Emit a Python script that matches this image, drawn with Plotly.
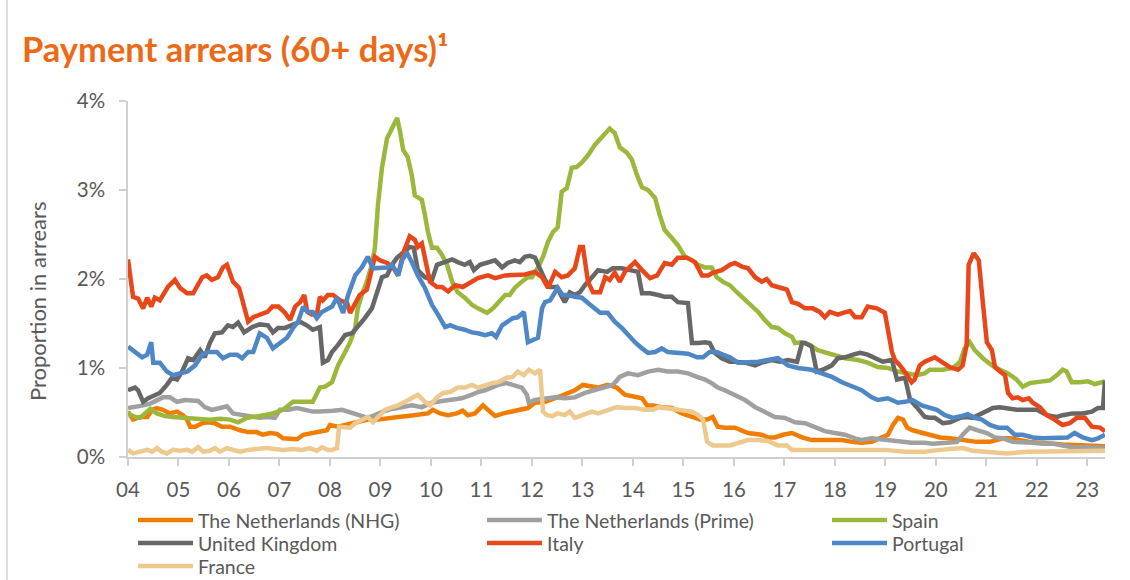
import plotly.graph_objects as go

# Tick positions (start of each year) and their labels
YEARS = list(range(2004, 2024))
YEAR_LABELS = [f"{y % 100:02d}" for y in YEARS]
PCT_TICKS = [0, 1, 2, 3, 4]
PCT_LABELS = [f"{v}%" for v in PCT_TICKS]

# Payment arrears 60+ days, % of loans, as (decimal year, value) pairs
NL_NHG = [
    (2004.00, 0.51), (2004.10, 0.42), (2004.24, 0.45), (2004.38, 0.45), (2004.48, 0.53),
    (2004.57, 0.55), (2004.69, 0.53), (2004.83, 0.49), (2004.97, 0.51), (2005.09, 0.47),
    (2005.17, 0.42), (2005.23, 0.34), (2005.33, 0.34), (2005.47, 0.38), (2005.58, 0.39),
    (2005.72, 0.38), (2005.86, 0.34), (2006.02, 0.34), (2006.22, 0.30), (2006.38, 0.28),
    (2006.55, 0.28), (2006.67, 0.25), (2006.81, 0.27), (2006.95, 0.26), (2007.07, 0.21),
    (2007.21, 0.20), (2007.35, 0.20), (2007.47, 0.25), (2007.64, 0.27), (2007.80, 0.28),
    (2007.94, 0.30), (2008.00, 0.36), (2008.16, 0.34), (2008.30, 0.36), (2008.44, 0.38),
    (2008.55, 0.39), (2008.75, 0.42), (2008.95, 0.42), (2009.15, 0.44), (2009.35, 0.45),
    (2009.54, 0.46), (2009.74, 0.47), (2009.94, 0.49), (2010.04, 0.53), (2010.18, 0.49),
    (2010.34, 0.47), (2010.51, 0.49), (2010.63, 0.52), (2010.73, 0.47), (2010.87, 0.49),
    (2011.03, 0.58), (2011.13, 0.53), (2011.27, 0.46), (2011.43, 0.49), (2011.60, 0.51),
    (2011.80, 0.53), (2011.92, 0.55), (2012.06, 0.61), (2012.26, 0.62), (2012.46, 0.66),
    (2012.65, 0.70), (2012.85, 0.75), (2013.01, 0.81), (2013.15, 0.79), (2013.31, 0.78),
    (2013.50, 0.81), (2013.68, 0.78), (2013.84, 0.70), (2014.04, 0.67), (2014.18, 0.66),
    (2014.28, 0.58), (2014.40, 0.58), (2014.57, 0.56), (2014.77, 0.55), (2014.97, 0.49),
    (2015.17, 0.45), (2015.33, 0.42), (2015.47, 0.42), (2015.58, 0.45), (2015.68, 0.34),
    (2015.82, 0.33), (2016.02, 0.33), (2016.16, 0.30), (2016.28, 0.27), (2016.55, 0.25),
    (2016.67, 0.22), (2016.81, 0.22), (2016.97, 0.25), (2017.15, 0.27), (2017.35, 0.22),
    (2017.54, 0.19), (2017.94, 0.19), (2018.14, 0.19), (2018.34, 0.17), (2018.53, 0.16),
    (2018.73, 0.17), (2018.89, 0.21), (2019.05, 0.25), (2019.15, 0.36), (2019.25, 0.44),
    (2019.35, 0.42), (2019.43, 0.33), (2019.54, 0.30), (2019.68, 0.28), (2019.84, 0.25),
    (2020.08, 0.22), (2020.28, 0.21), (2020.53, 0.19), (2020.81, 0.17), (2021.07, 0.17),
    (2021.33, 0.21), (2021.47, 0.21), (2021.86, 0.17), (2022.51, 0.14), (2023.35, 0.12),
]

NL_PRIME = [
    (2004.00, 0.55), (2004.14, 0.56), (2004.30, 0.58), (2004.44, 0.60), (2004.57, 0.64),
    (2004.69, 0.67), (2004.83, 0.67), (2004.97, 0.62), (2005.13, 0.64), (2005.27, 0.64),
    (2005.39, 0.63), (2005.52, 0.56), (2005.66, 0.53), (2005.82, 0.55), (2005.96, 0.57),
    (2006.08, 0.49), (2006.28, 0.47), (2006.46, 0.45), (2006.61, 0.44), (2006.77, 0.45),
    (2006.91, 0.44), (2007.01, 0.53), (2007.17, 0.53), (2007.35, 0.55), (2007.50, 0.53),
    (2007.66, 0.51), (2007.80, 0.51), (2007.96, 0.51), (2008.06, 0.52), (2008.24, 0.53),
    (2008.44, 0.49), (2008.59, 0.47), (2008.75, 0.44), (2008.89, 0.47), (2009.05, 0.51),
    (2009.23, 0.54), (2009.43, 0.56), (2009.62, 0.58), (2009.82, 0.56), (2010.02, 0.61),
    (2010.22, 0.63), (2010.42, 0.64), (2010.61, 0.66), (2010.81, 0.70), (2010.93, 0.73),
    (2011.07, 0.75), (2011.21, 0.78), (2011.33, 0.81), (2011.50, 0.83), (2011.66, 0.81),
    (2011.80, 0.78), (2011.90, 0.70), (2011.94, 0.61), (2012.06, 0.64), (2012.26, 0.66),
    (2012.46, 0.67), (2012.65, 0.66), (2012.85, 0.67), (2013.05, 0.72), (2013.25, 0.75),
    (2013.45, 0.79), (2013.60, 0.81), (2013.74, 0.90), (2013.90, 0.94), (2014.10, 0.92),
    (2014.30, 0.96), (2014.50, 0.98), (2014.69, 0.96), (2014.89, 0.96), (2015.09, 0.94),
    (2015.27, 0.90), (2015.43, 0.87), (2015.56, 0.83), (2015.68, 0.78), (2015.82, 0.75),
    (2016.02, 0.70), (2016.22, 0.64), (2016.42, 0.56), (2016.61, 0.51), (2016.81, 0.45),
    (2017.01, 0.44), (2017.21, 0.39), (2017.41, 0.38), (2017.60, 0.34), (2017.80, 0.29),
    (2018.00, 0.27), (2018.20, 0.25), (2018.40, 0.21), (2018.53, 0.19), (2018.73, 0.21),
    (2018.99, 0.19), (2019.25, 0.17), (2019.52, 0.16), (2019.78, 0.16), (2019.94, 0.15),
    (2020.22, 0.16), (2020.42, 0.17), (2020.53, 0.25), (2020.67, 0.33), (2020.83, 0.30),
    (2021.01, 0.27), (2021.17, 0.22), (2021.33, 0.21), (2021.52, 0.17), (2021.72, 0.17),
    (2021.92, 0.16), (2022.12, 0.15), (2022.32, 0.15), (2022.51, 0.13), (2022.71, 0.11),
    (2022.99, 0.11), (2023.19, 0.11), (2023.35, 0.10),
]

SPAIN = [
    (2004.00, 0.49), (2004.14, 0.45), (2004.24, 0.44), (2004.34, 0.49), (2004.44, 0.54),
    (2004.57, 0.49), (2004.73, 0.46), (2004.89, 0.45), (2005.09, 0.44), (2005.37, 0.43),
    (2005.62, 0.42), (2005.82, 0.43), (2006.02, 0.42), (2006.18, 0.39), (2006.36, 0.44),
    (2006.61, 0.46), (2006.87, 0.49), (2007.07, 0.53), (2007.27, 0.62), (2007.47, 0.62),
    (2007.66, 0.62), (2007.80, 0.78), (2007.90, 0.79), (2008.04, 0.84), (2008.16, 1.03),
    (2008.30, 1.18), (2008.40, 1.29), (2008.50, 1.45), (2008.55, 1.67), (2008.63, 1.82),
    (2008.73, 1.97), (2008.83, 2.16), (2008.89, 2.35), (2008.95, 2.83), (2009.03, 3.25),
    (2009.13, 3.58), (2009.23, 3.70), (2009.33, 3.81), (2009.39, 3.65), (2009.45, 3.45),
    (2009.54, 3.37), (2009.62, 3.17), (2009.68, 2.94), (2009.82, 2.89), (2009.88, 2.72),
    (2009.94, 2.53), (2010.02, 2.35), (2010.12, 2.35), (2010.22, 2.27), (2010.32, 2.16),
    (2010.42, 1.97), (2010.53, 1.85), (2010.67, 1.79), (2010.81, 1.71), (2010.93, 1.67),
    (2011.11, 1.62), (2011.23, 1.67), (2011.33, 1.73), (2011.47, 1.82), (2011.56, 1.82),
    (2011.66, 1.90), (2011.80, 1.97), (2011.92, 2.02), (2012.00, 2.02), (2012.12, 2.13),
    (2012.22, 2.25), (2012.32, 2.42), (2012.42, 2.53), (2012.51, 2.58), (2012.59, 2.98),
    (2012.69, 3.02), (2012.79, 3.25), (2012.89, 3.26), (2012.99, 3.31), (2013.11, 3.39),
    (2013.25, 3.51), (2013.41, 3.60), (2013.54, 3.69), (2013.64, 3.64), (2013.74, 3.48),
    (2013.88, 3.42), (2013.98, 3.34), (2014.08, 3.17), (2014.18, 3.03), (2014.30, 3.00),
    (2014.44, 2.91), (2014.53, 2.72), (2014.63, 2.55), (2014.77, 2.46), (2014.89, 2.38),
    (2015.03, 2.25), (2015.17, 2.21), (2015.29, 2.16), (2015.43, 2.13), (2015.56, 2.13),
    (2015.66, 2.02), (2015.78, 1.97), (2015.92, 1.93), (2016.08, 1.84), (2016.28, 1.74),
    (2016.48, 1.63), (2016.61, 1.54), (2016.75, 1.46), (2016.87, 1.45), (2017.01, 1.39),
    (2017.15, 1.35), (2017.21, 1.28), (2017.35, 1.29), (2017.50, 1.26), (2017.66, 1.20),
    (2017.80, 1.18), (2018.00, 1.15), (2018.20, 1.11), (2018.46, 1.09), (2018.65, 1.06),
    (2018.85, 1.01), (2019.05, 1.00), (2019.25, 0.96), (2019.45, 0.94), (2019.62, 0.92),
    (2019.78, 0.94), (2019.88, 0.98), (2020.14, 0.98), (2020.34, 1.00), (2020.48, 1.07),
    (2020.57, 1.22), (2020.67, 1.29), (2020.77, 1.20), (2020.93, 1.11), (2021.11, 1.03),
    (2021.27, 0.98), (2021.43, 0.94), (2021.60, 0.87), (2021.72, 0.79), (2021.86, 0.83),
    (2022.06, 0.84), (2022.26, 0.86), (2022.40, 0.92), (2022.51, 0.98), (2022.59, 0.96),
    (2022.69, 0.84), (2022.85, 0.84), (2023.01, 0.85), (2023.15, 0.82), (2023.29, 0.84),
    (2023.35, 0.85),
]

UNITED_KINGDOM = [
    (2004.00, 0.75), (2004.14, 0.78), (2004.20, 0.75), (2004.30, 0.62), (2004.40, 0.66),
    (2004.53, 0.70), (2004.63, 0.72), (2004.77, 0.81), (2004.87, 0.89), (2004.97, 0.87),
    (2005.07, 0.96), (2005.19, 1.11), (2005.29, 1.09), (2005.43, 1.20), (2005.52, 1.12),
    (2005.62, 1.28), (2005.72, 1.39), (2005.86, 1.40), (2005.98, 1.48), (2006.08, 1.46),
    (2006.18, 1.51), (2006.30, 1.40), (2006.46, 1.46), (2006.61, 1.49), (2006.77, 1.48),
    (2006.87, 1.40), (2006.97, 1.45), (2007.11, 1.45), (2007.25, 1.48), (2007.41, 1.52),
    (2007.54, 1.48), (2007.66, 1.43), (2007.80, 1.46), (2007.86, 1.06), (2007.96, 1.09),
    (2008.04, 1.18), (2008.16, 1.26), (2008.30, 1.37), (2008.44, 1.39), (2008.55, 1.46),
    (2008.69, 1.56), (2008.83, 1.67), (2008.95, 1.90), (2009.03, 2.02), (2009.13, 2.04),
    (2009.23, 2.16), (2009.33, 2.24), (2009.45, 2.30), (2009.58, 2.36), (2009.66, 2.35),
    (2009.74, 2.10), (2009.88, 2.02), (2010.02, 1.99), (2010.12, 2.16), (2010.28, 2.19),
    (2010.42, 2.22), (2010.53, 2.19), (2010.67, 2.16), (2010.77, 2.19), (2010.85, 2.10),
    (2010.97, 2.16), (2011.13, 2.19), (2011.27, 2.21), (2011.41, 2.13), (2011.52, 2.18),
    (2011.66, 2.21), (2011.76, 2.19), (2011.86, 2.25), (2011.96, 2.26), (2012.06, 2.24),
    (2012.16, 2.12), (2012.26, 1.99), (2012.36, 1.91), (2012.50, 1.91), (2012.59, 1.80),
    (2012.65, 1.74), (2012.75, 1.85), (2012.85, 1.82), (2012.95, 1.85), (2013.05, 1.93),
    (2013.19, 2.02), (2013.31, 2.10), (2013.49, 2.08), (2013.60, 2.12), (2013.78, 2.12),
    (2013.98, 2.10), (2014.10, 2.08), (2014.18, 1.84), (2014.34, 1.84), (2014.50, 1.82),
    (2014.63, 1.80), (2014.77, 1.80), (2014.89, 1.74), (2015.09, 1.73), (2015.17, 1.28),
    (2015.29, 1.28), (2015.43, 1.29), (2015.52, 1.28), (2015.62, 1.17), (2015.76, 1.11),
    (2015.92, 1.07), (2016.02, 1.07), (2016.22, 1.06), (2016.42, 1.03), (2016.55, 1.06),
    (2016.75, 1.09), (2016.91, 1.07), (2017.07, 1.09), (2017.25, 1.07), (2017.35, 1.28),
    (2017.41, 1.28), (2017.54, 1.24), (2017.64, 0.96), (2017.76, 0.98), (2017.94, 1.03),
    (2018.06, 1.11), (2018.20, 1.12), (2018.36, 1.15), (2018.50, 1.17), (2018.65, 1.15),
    (2018.83, 1.11), (2018.95, 1.07), (2019.13, 1.09), (2019.23, 0.87), (2019.39, 0.89),
    (2019.49, 0.64), (2019.62, 0.56), (2019.78, 0.45), (2019.88, 0.44), (2019.98, 0.44),
    (2020.14, 0.38), (2020.28, 0.39), (2020.48, 0.44), (2020.61, 0.45), (2020.73, 0.44),
    (2020.93, 0.49), (2021.13, 0.55), (2021.27, 0.56), (2021.41, 0.55), (2021.60, 0.53),
    (2021.80, 0.53), (2022.00, 0.53), (2022.20, 0.47), (2022.40, 0.45), (2022.51, 0.47),
    (2022.71, 0.49), (2022.91, 0.49), (2023.09, 0.51), (2023.21, 0.55), (2023.31, 0.55),
    (2023.35, 0.86),
]

ITALY = [
    (2004.00, 2.22), (2004.10, 1.80), (2004.20, 1.78), (2004.30, 1.67), (2004.38, 1.79),
    (2004.46, 1.69), (2004.53, 1.79), (2004.63, 1.76), (2004.79, 1.91), (2004.93, 1.99),
    (2005.03, 1.90), (2005.17, 1.84), (2005.29, 1.84), (2005.47, 2.02), (2005.56, 2.04),
    (2005.66, 1.99), (2005.78, 2.02), (2005.88, 2.13), (2005.96, 2.16), (2006.08, 1.97),
    (2006.20, 1.90), (2006.38, 1.52), (2006.48, 1.57), (2006.62, 1.60), (2006.76, 1.63),
    (2006.86, 1.69), (2006.98, 1.69), (2007.11, 1.62), (2007.21, 1.54), (2007.31, 1.69),
    (2007.41, 1.74), (2007.49, 1.82), (2007.55, 1.63), (2007.64, 1.60), (2007.74, 1.60),
    (2007.80, 1.80), (2007.86, 1.76), (2007.96, 1.82), (2008.06, 1.82), (2008.20, 1.76),
    (2008.34, 1.73), (2008.40, 1.62), (2008.50, 1.73), (2008.59, 1.82), (2008.73, 1.88),
    (2008.83, 2.10), (2008.89, 2.25), (2008.99, 2.21), (2009.13, 2.18), (2009.25, 2.13),
    (2009.35, 2.04), (2009.45, 2.29), (2009.58, 2.48), (2009.68, 2.44), (2009.74, 2.36),
    (2009.82, 2.40), (2009.88, 2.24), (2009.98, 1.97), (2010.12, 1.91), (2010.22, 1.91),
    (2010.34, 1.86), (2010.48, 1.93), (2010.63, 1.91), (2010.81, 1.97), (2010.93, 2.01),
    (2011.13, 2.04), (2011.27, 2.01), (2011.47, 2.04), (2011.66, 2.04), (2011.86, 2.05),
    (2012.06, 2.08), (2012.20, 2.02), (2012.32, 1.90), (2012.46, 2.08), (2012.59, 2.02),
    (2012.71, 2.04), (2012.85, 2.12), (2012.95, 2.36), (2013.01, 2.36), (2013.11, 1.97),
    (2013.21, 1.85), (2013.35, 1.85), (2013.45, 2.02), (2013.54, 1.99), (2013.64, 2.07),
    (2013.74, 1.97), (2013.84, 2.08), (2014.04, 2.19), (2014.18, 2.10), (2014.34, 2.01),
    (2014.48, 2.04), (2014.63, 2.18), (2014.77, 2.16), (2014.89, 2.24), (2015.07, 2.24),
    (2015.23, 2.19), (2015.37, 2.04), (2015.49, 2.04), (2015.58, 2.07), (2015.76, 2.10),
    (2015.92, 2.16), (2016.02, 2.18), (2016.16, 2.14), (2016.28, 2.12), (2016.42, 2.02),
    (2016.55, 1.97), (2016.65, 2.00), (2016.75, 1.93), (2016.87, 1.91), (2017.05, 1.88),
    (2017.15, 1.74), (2017.27, 1.72), (2017.41, 1.67), (2017.56, 1.67), (2017.70, 1.63),
    (2017.80, 1.57), (2017.90, 1.63), (2018.06, 1.60), (2018.16, 1.62), (2018.30, 1.64),
    (2018.40, 1.57), (2018.53, 1.57), (2018.65, 1.69), (2018.83, 1.67), (2018.99, 1.62),
    (2019.05, 1.45), (2019.13, 1.18), (2019.19, 1.09), (2019.29, 1.03), (2019.43, 0.92),
    (2019.52, 0.84), (2019.58, 0.87), (2019.68, 1.03), (2019.78, 1.07), (2019.88, 1.09),
    (2019.98, 1.12), (2020.14, 1.06), (2020.28, 1.01), (2020.44, 0.98), (2020.53, 1.03),
    (2020.61, 1.26), (2020.65, 2.16), (2020.75, 2.29), (2020.85, 2.21), (2020.93, 1.74),
    (2021.01, 1.29), (2021.11, 1.20), (2021.17, 1.01), (2021.27, 0.96), (2021.37, 0.92),
    (2021.43, 0.72), (2021.52, 0.66), (2021.62, 0.67), (2021.72, 0.64), (2021.84, 0.66),
    (2021.92, 0.61), (2022.06, 0.56), (2022.20, 0.47), (2022.35, 0.42), (2022.51, 0.36),
    (2022.65, 0.38), (2022.79, 0.44), (2022.95, 0.44), (2023.09, 0.34), (2023.25, 0.33),
    (2023.35, 0.29),
]

PORTUGAL = [
    (2004.00, 1.24), (2004.14, 1.18), (2004.28, 1.12), (2004.38, 1.15), (2004.46, 1.29),
    (2004.50, 1.06), (2004.63, 1.06), (2004.77, 0.96), (2004.89, 0.92), (2005.03, 0.94),
    (2005.17, 0.96), (2005.33, 1.03), (2005.47, 1.15), (2005.58, 1.18), (2005.76, 1.18),
    (2005.88, 1.11), (2006.02, 1.15), (2006.16, 1.15), (2006.26, 1.11), (2006.38, 1.18),
    (2006.48, 1.18), (2006.61, 1.39), (2006.75, 1.34), (2006.87, 1.22), (2007.01, 1.28),
    (2007.15, 1.34), (2007.27, 1.45), (2007.37, 1.52), (2007.47, 1.69), (2007.56, 1.63),
    (2007.66, 1.63), (2007.74, 1.56), (2007.84, 1.63), (2007.96, 1.67), (2008.04, 1.69),
    (2008.14, 1.79), (2008.26, 1.62), (2008.36, 1.82), (2008.50, 2.04), (2008.63, 2.13),
    (2008.75, 2.25), (2008.85, 2.12), (2008.99, 2.12), (2009.13, 2.13), (2009.23, 2.16),
    (2009.35, 2.04), (2009.43, 2.21), (2009.52, 2.30), (2009.62, 2.19), (2009.74, 2.04),
    (2009.88, 1.90), (2010.02, 1.71), (2010.14, 1.60), (2010.28, 1.46), (2010.38, 1.48),
    (2010.51, 1.45), (2010.67, 1.43), (2010.81, 1.40), (2010.93, 1.39), (2011.07, 1.37),
    (2011.21, 1.39), (2011.29, 1.35), (2011.41, 1.48), (2011.52, 1.52), (2011.62, 1.56),
    (2011.72, 1.57), (2011.84, 1.63), (2011.92, 1.29), (2012.02, 1.31), (2012.12, 1.34),
    (2012.20, 1.67), (2012.26, 1.74), (2012.36, 1.76), (2012.46, 1.85), (2012.51, 1.90),
    (2012.61, 1.82), (2012.71, 1.82), (2012.85, 1.80), (2012.99, 1.79), (2013.11, 1.73),
    (2013.25, 1.67), (2013.35, 1.62), (2013.50, 1.62), (2013.64, 1.52), (2013.78, 1.45),
    (2013.90, 1.37), (2014.04, 1.29), (2014.18, 1.22), (2014.30, 1.17), (2014.44, 1.18),
    (2014.57, 1.22), (2014.69, 1.18), (2014.89, 1.17), (2015.09, 1.16), (2015.27, 1.12),
    (2015.39, 1.12), (2015.52, 1.18), (2015.66, 1.18), (2015.78, 1.15), (2015.92, 1.12),
    (2016.08, 1.06), (2016.28, 1.06), (2016.48, 1.07), (2016.67, 1.09), (2016.87, 1.11),
    (2017.07, 1.03), (2017.27, 1.00), (2017.54, 0.98), (2017.74, 0.94), (2017.94, 0.90),
    (2018.14, 0.84), (2018.34, 0.79), (2018.53, 0.75), (2018.73, 0.67), (2018.85, 0.64),
    (2019.05, 0.66), (2019.25, 0.61), (2019.39, 0.62), (2019.54, 0.64), (2019.72, 0.58),
    (2019.88, 0.56), (2020.02, 0.53), (2020.18, 0.47), (2020.34, 0.44), (2020.51, 0.46),
    (2020.63, 0.48), (2020.77, 0.44), (2020.91, 0.42), (2021.07, 0.36), (2021.23, 0.33),
    (2021.41, 0.33), (2021.56, 0.25), (2021.72, 0.25), (2021.92, 0.22), (2022.12, 0.21),
    (2022.32, 0.21), (2022.50, 0.22), (2022.61, 0.22), (2022.75, 0.27), (2022.91, 0.22),
    (2023.09, 0.19), (2023.21, 0.21), (2023.35, 0.25),
]

FRANCE = [
    (2004.00, 0.08), (2004.10, 0.04), (2004.24, 0.06), (2004.38, 0.08), (2004.48, 0.06),
    (2004.57, 0.10), (2004.67, 0.06), (2004.77, 0.04), (2004.89, 0.08), (2005.03, 0.07),
    (2005.17, 0.08), (2005.27, 0.06), (2005.39, 0.11), (2005.49, 0.06), (2005.62, 0.07),
    (2005.72, 0.10), (2005.82, 0.06), (2005.96, 0.10), (2006.08, 0.08), (2006.22, 0.06),
    (2006.38, 0.08), (2006.55, 0.09), (2006.75, 0.10), (2006.91, 0.09), (2007.07, 0.08),
    (2007.27, 0.09), (2007.45, 0.08), (2007.60, 0.10), (2007.74, 0.07), (2007.84, 0.11),
    (2007.96, 0.08), (2008.04, 0.08), (2008.14, 0.10), (2008.18, 0.34), (2008.30, 0.33),
    (2008.40, 0.33), (2008.50, 0.38), (2008.63, 0.42), (2008.75, 0.45), (2008.85, 0.39),
    (2008.95, 0.45), (2009.09, 0.53), (2009.23, 0.56), (2009.35, 0.58), (2009.49, 0.62),
    (2009.62, 0.66), (2009.74, 0.70), (2009.88, 0.62), (2009.98, 0.58), (2010.12, 0.67),
    (2010.24, 0.72), (2010.38, 0.73), (2010.53, 0.78), (2010.67, 0.78), (2010.81, 0.81),
    (2010.93, 0.78), (2011.07, 0.81), (2011.21, 0.83), (2011.33, 0.84), (2011.50, 0.89),
    (2011.62, 0.90), (2011.72, 0.96), (2011.84, 0.92), (2011.94, 0.98), (2012.06, 0.94),
    (2012.16, 0.98), (2012.22, 0.51), (2012.30, 0.47), (2012.40, 0.46), (2012.51, 0.49),
    (2012.65, 0.47), (2012.75, 0.51), (2012.85, 0.44), (2013.01, 0.47), (2013.19, 0.51),
    (2013.31, 0.49), (2013.50, 0.53), (2013.68, 0.56), (2013.84, 0.55), (2014.04, 0.55),
    (2014.24, 0.53), (2014.40, 0.53), (2014.50, 0.56), (2014.63, 0.55), (2014.83, 0.53),
    (2014.99, 0.53), (2015.17, 0.51), (2015.29, 0.47), (2015.39, 0.42), (2015.47, 0.17),
    (2015.58, 0.13), (2015.92, 0.13), (2016.08, 0.16), (2016.28, 0.19), (2016.48, 0.19),
    (2016.67, 0.18), (2016.87, 0.13), (2017.05, 0.13), (2017.15, 0.08), (2018.20, 0.08),
    (2018.99, 0.08), (2019.39, 0.06), (2019.78, 0.06), (2020.08, 0.08), (2020.34, 0.09),
    (2020.53, 0.10), (2020.73, 0.07), (2021.01, 0.06), (2021.41, 0.04), (2021.80, 0.06),
    (2022.20, 0.06), (2022.59, 0.07), (2023.35, 0.07),
]

# name, data, colour
SERIES = [
    ("The Netherlands (NHG)", NL_NHG, "#F07D00"),
    ("The Netherlands (Prime)", NL_PRIME, "#A0A0A0"),
    ("Spain", SPAIN, "#9BB83C"),
    ("United Kingdom", UNITED_KINGDOM, "#676767"),
    ("Italy", ITALY, "#E8471A"),
    ("Portugal", PORTUGAL, "#4F87C6"),
    ("France", FRANCE, "#EDC98E"),
]

W, H = 1130, 580
L, R, T, B = 128, 25, 101, 123
pw, ph = W - L - R, H - T - B

TEXT = "#595959"
AXIS = "#D0D0D0"
FONT = "Lato"
LEGEND_SIZE = 19.5

# legend grid: three columns, filled row by row (pixel x of the key line, pixel y of row centre)
LEGEND_COLS = [138, 487, 832]
LEGEND_ROWS = [520, 543, 566]


def px_x(x):
    return (x - L) / pw


def px_y(y):
    return (H - B - y) / ph


fig = go.Figure()
legends = {}
item_h = LEGEND_SIZE * 1.3 + 3
for i, (name, pts, color) in enumerate(SERIES):
    key = "legend" if i == 0 else f"legend{i + 1}"
    col_x = LEGEND_COLS[i % 3]
    row_y = LEGEND_ROWS[i // 3]
    top = row_y - 5 - item_h / 2
    legends[key] = dict(
        orientation="v",
        xref="paper",
        yref="container",
        x=px_x(col_x - 5),
        y=(H - top) / H,
        xanchor="left",
        yanchor="top",
        itemwidth=55,
        bgcolor="rgba(0,0,0,0)",
        font=dict(family=FONT, size=LEGEND_SIZE, color=TEXT),
    )
    fig.add_trace(go.Scatter(
        x=[p[0] for p in pts],
        y=[p[1] for p in pts],
        mode="lines",
        name=name,
        line=dict(color=color, width=4.5),
        legend=key,
    ))

fig.update_layout(
    width=W,
    height=H,
    autosize=False,
    margin=dict(l=L, r=R, t=T, b=B, pad=0, autoexpand=False),
    paper_bgcolor="white",
    plot_bgcolor="white",
    font=dict(family=FONT, color=TEXT),
    showlegend=True,
    **legends,
    xaxis=dict(
        range=[2004, 2023.35],
        tickmode="array",
        tickvals=YEARS,
        ticktext=YEAR_LABELS,
        automargin=False,
        showgrid=False,
        zeroline=False,
        showline=True,
        linecolor=AXIS,
        linewidth=1.5,
        ticks="outside",
        ticklen=7,
        tickwidth=1.5,
        tickcolor=AXIS,
        ticklabelstandoff=7,
        tickfont=dict(family=FONT, size=20.5, color=TEXT),
    ),
    yaxis=dict(
        range=[0, 4],
        tickmode="array",
        tickvals=PCT_TICKS,
        ticktext=PCT_LABELS,
        automargin=False,
        showgrid=False,
        zeroline=False,
        showline=True,
        linecolor=AXIS,
        linewidth=1.5,
        ticks="outside",
        ticklen=7,
        tickwidth=1.5,
        tickcolor=AXIS,
        ticklabelstandoff=10,
        tickfont=dict(family=FONT, size=20.5, color=TEXT),
    ),
    annotations=[
        dict(
            text="<b>Payment arrears (60+ days)¹</b>",
            xref="paper", yref="paper",
            x=px_x(20), y=px_y(48),
            xanchor="left", yanchor="middle",
            showarrow=False,
            font=dict(family=FONT, size=34.5, color="#EC6A17"),
        ),
        dict(
            text="Proportion in arrears",
            xref="paper", yref="paper",
            x=px_x(37), y=px_y(302),
            xanchor="center", yanchor="middle",
            textangle=-90,
            showarrow=False,
            font=dict(family=FONT, size=22, color=TEXT),
        ),
    ],
    shapes=[
        dict(
            type="line", xref="paper", yref="paper",
            x0=px_x(7), x1=px_x(7), y0=px_y(H), y1=px_y(0),
            line=dict(color="#D4D4D4", width=1.5),
        ),
    ],
)

fig.write_html("out.html")
